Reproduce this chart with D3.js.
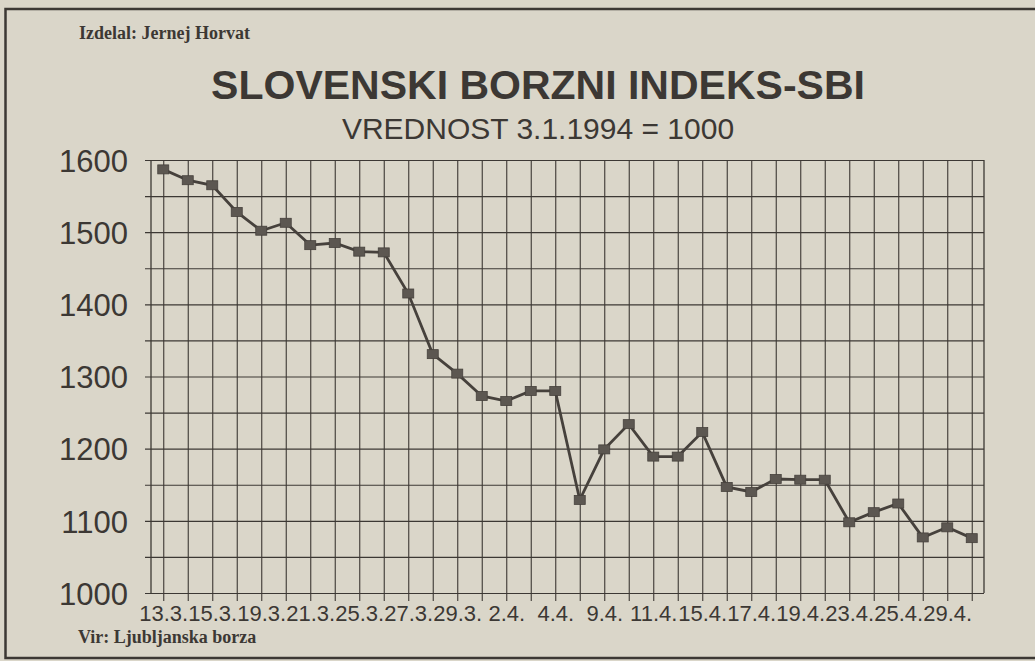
<!DOCTYPE html>
<html>
<head>
<meta charset="utf-8">
<script src="https://cdn.jsdelivr.net/npm/d3@7"></script>
<style>
  body { margin: 0; background: #dad6c9; }
  #chart svg { display: block; }
  .sans { font-family: "Liberation Sans", Arial, sans-serif; }
  .serif { font-family: "Liberation Serif", "Times New Roman", serif; font-weight: bold; }
</style>
</head>
<body>
<div id="chart"></div>
<script>
// Data: SBI closing values, 13.3. - 29.4.1994
const values = [1587, 1572, 1565, 1528, 1502, 1513, 1482, 1485, 1473, 1472,
  1415, 1331, 1304, 1273, 1266, 1280, 1280, 1129, 1199, 1234,
  1189, 1189, 1223, 1147, 1140, 1158, 1157, 1157, 1098, 1112,
  1124, 1077, 1091, 1076];
// date labels, shown under every second point
const dateLabels = ["13.3.", "15.3.", "19.3.", "21.3.", "25.3.", "27.3.", "29.3.", "2.4.",
  "4.4.", "9.4.", "11.4.", "15.4.", "17.4.", "19.4.", "23.4.", "25.4.", "29.4."];
const yTicks = [1000, 1100, 1200, 1300, 1400, 1500, 1600];
const yGrid = [1000, 1050, 1100, 1150, 1200, 1250, 1300, 1350, 1400, 1450, 1500, 1550, 1600];

const ink = "#3c3834";

function draw() {
  const dimensions = {
    width: 1035,
    height: 661,
    left: 151,
    right: 984,
    top: 160,
    bottom: 593
  };

  const svg = d3
    .select("#chart")
    .append("svg")
    .attr("width", dimensions.width)
    .attr("height", dimensions.height);

  // Frame
  svg
    .append("rect")
    .attr("x", 5.5)
    .attr("y", 9)
    .attr("width", 1100)
    .attr("height", 649)
    .attr("fill", "none")
    .attr("stroke", ink)
    .attr("stroke-width", 2.5);

  // Texts
  svg
    .append("text")
    .attr("class", "serif")
    .attr("x", 79)
    .attr("y", 39)
    .attr("fill", ink)
    .style("font-size", "18px")
    .text("Izdelal: Jernej Horvat");

  svg
    .append("text")
    .attr("class", "sans")
    .attr("x", 538)
    .attr("y", 99)
    .attr("text-anchor", "middle")
    .attr("fill", ink)
    .style("font-size", "41px")
    .style("font-weight", "bold")
    .text("SLOVENSKI BORZNI INDEKS-SBI");

  svg
    .append("text")
    .attr("class", "sans")
    .attr("x", 538)
    .attr("y", 139)
    .attr("text-anchor", "middle")
    .attr("fill", ink)
    .style("font-size", "30px")
    .text("VREDNOST 3.1.1994 = 1000");

  svg
    .append("text")
    .attr("class", "serif")
    .attr("x", 78)
    .attr("y", 643)
    .attr("fill", ink)
    .style("font-size", "18px")
    .text("Vir: Ljubljanska borza");

  // Scales
  const xScale = d3
    .scalePoint()
    .domain(d3.range(values.length))
    .range([dimensions.left, dimensions.right])
    .padding(0.5);

  const yScale = d3
    .scaleLinear()
    .domain([1000, 1600])
    .range([dimensions.bottom, dimensions.top]);

  // Horizontal grid (every 50)
  const hGrid = svg
    .append("g")
    .attr("transform", `translate(${dimensions.right},0)`)
    .call(
      d3.axisLeft(yScale)
        .tickValues(yGrid)
        .tickSizeInner(dimensions.right - dimensions.left + 6)
        .tickSizeOuter(0)
        .tickFormat("")
    );
  hGrid.select(".domain").remove();
  hGrid.selectAll("line").attr("stroke", ink).attr("stroke-width", 1.2);

  // Vertical grid + ticks below the axis
  const vGrid = svg
    .append("g")
    .attr("transform", `translate(0,${dimensions.bottom + 8})`)
    .call(
      d3.axisBottom(xScale)
        .tickSizeInner(-(dimensions.bottom + 8 - dimensions.top))
        .tickSizeOuter(0)
        .tickFormat("")
    );
  vGrid.select(".domain").remove();
  vGrid.selectAll("line").attr("stroke", ink).attr("stroke-width", 1.1);

  // Plot border left / right
  svg
    .append("g")
    .selectAll("line")
    .data([dimensions.left, dimensions.right])
    .join("line")
    .attr("x1", (d) => d)
    .attr("x2", (d) => d)
    .attr("y1", dimensions.top)
    .attr("y2", dimensions.bottom)
    .attr("stroke", ink)
    .attr("stroke-width", 1.3);

  // Y axis labels
  const yAxisGroup = svg
    .append("g")
    .attr("transform", `translate(${dimensions.left},0)`)
    .call(
      d3.axisLeft(yScale)
        .tickValues(yTicks)
        .tickSize(0)
        .tickPadding(23)
        .tickFormat(d3.format("d"))
    );
  yAxisGroup.select(".domain").remove();
  yAxisGroup
    .selectAll("text")
    .attr("fill", ink)
    .attr("dy", "0.36em")
    .style("font-family", '"Liberation Sans", Arial, sans-serif')
    .style("font-size", "31px");

  // X axis labels
  const xAxisGroup = svg
    .append("g")
    .attr("transform", `translate(0,${dimensions.bottom})`)
    .call(
      d3.axisBottom(xScale)
        .tickValues(d3.range(0, values.length, 2))
        .tickSize(0)
        .tickPadding(12)
        .tickFormat((d) => dateLabels[d / 2])
    );
  xAxisGroup.select(".domain").remove();
  xAxisGroup
    .selectAll("text")
    .attr("fill", ink)
    .style("font-family", '"Liberation Sans", Arial, sans-serif')
    .style("font-size", "22px");

  // Line
  const line = d3
    .line()
    .x((d, i) => xScale(i))
    .y((d) => yScale(d));

  svg
    .append("path")
    .datum(values)
    .attr("d", line)
    .attr("fill", "none")
    .attr("stroke", "#46413c")
    .attr("stroke-width", 2.8);

  // Markers
  svg
    .append("g")
    .selectAll("rect")
    .data(values)
    .join("rect")
    .attr("x", (d, i) => xScale(i) - 5.5)
    .attr("y", (d) => yScale(d) - 4.5)
    .attr("width", 11)
    .attr("height", 9)
    .attr("fill", "#5c5751")
    .attr("stroke", "#46413c")
    .attr("stroke-width", 0.8);
}

draw();
</script>
</body>
</html>
